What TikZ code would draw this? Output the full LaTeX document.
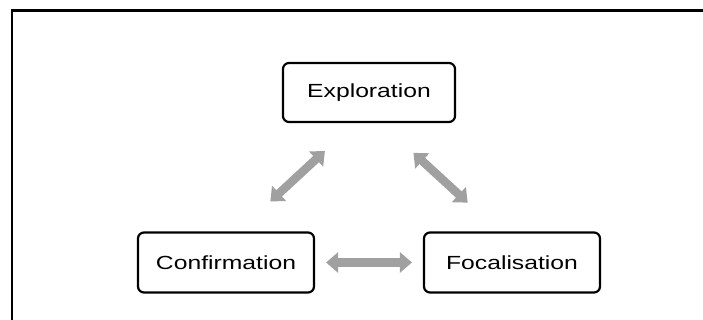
\documentclass[tikz,border=0pt]{standalone}
\usepackage{fontspec}
\setmainfont{Liberation Sans}
\usetikzlibrary{arrows.meta,calc}
\definecolor{arrowgray}{HTML}{A0A0A0}
\tikzset{
  phase/.style={draw=black, line width=2.2pt, rounded corners=6pt, fill=white,
    minimum width=176pt, minimum height=60pt, inner sep=0pt,
    font=\fontsize{19}{21}\selectfont},
  link/.style={draw=arrowgray, line width=8.5pt,
    {Triangle[width=20pt,length=12pt]}-{Triangle[width=20pt,length=12pt]}},
  frame/.style={line width=2.6pt, black}
}
\newcommand{\wide}[1]{\scalebox{1.3}[1]{#1}}
\begin{document}
\begin{tikzpicture}[x=1pt,y=-1pt]
  \useasboundingbox (0,0) rectangle (703,320);
  % open outer frame (top and left edges)
  \draw[frame] (12,330) -- (12,10.5) -- (710,10.5);
  % the three phases
  \node[phase, minimum width=172pt, minimum height=59pt] (expl) at (369,92.5) {\wide{Exploration}};
  \node[phase] (conf) at (226,262.5) {\wide{Confirmation}};
  \node[phase] (foc)  at (512,262.5) {\wide{Focalisation}};
  % double-headed links between phases
  \draw[link, shorten <=11pt, shorten >=11pt] (conf.east) -- (foc.west);
  \draw[link, shorten <=44pt, shorten >=41pt]
    ($(conf.north)+(12,0)$) -- ($(expl.south)+(-14,0)$);
  \draw[link, shorten <=44pt, shorten >=42.5pt]
    ($(expl.south)+(12,0)$) -- ($(foc.north)+(-13,0)$);
\end{tikzpicture}
\end{document}
